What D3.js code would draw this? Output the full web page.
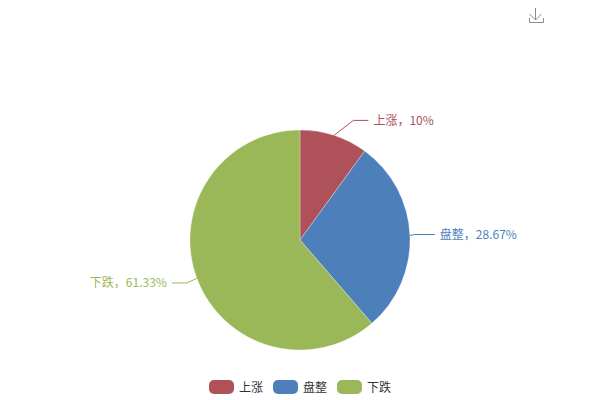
<!DOCTYPE html>
<html>
<head>
<meta charset="utf-8">
<style>
  html, body { margin: 0; padding: 0; background: #fff; }
  text { font-family: "Noto Sans CJK SC", sans-serif; font-size: 12px; }
</style>
<script src="https://cdn.jsdelivr.net/npm/d3@7"></script>
</head>
<body>
<script>
const categories = ['上涨', '盘整', '下跌'];
const values = [10, 28.67, 61.33];
const colors = ['#ae5158', '#4d7fbb', '#9ab858'];

const width = 600;
const height = 400;
const radius = 110;
const cx = 300;
const cy = 240;

// how far each label elbow sits from the slice edge, and the flat part after it
const elbowRadius = [131, 115, 121];
const elbowAngleShift = [0.106, -0.006, -0.007];
const flatLen = [15, 20, 15];

const svg = d3.select(document.body).append('svg')
  .attr('width', width)
  .attr('height', height)
  .style('display', 'block');

const color = d3.scaleOrdinal().domain(categories).range(colors);

const pie = d3.pie().sort(null).value(d => d.value);
const arc = d3.arc().innerRadius(0).outerRadius(radius);

const data = categories.map((name, i) => ({ name, value: values[i] }));
const slices = pie(data);

const g = svg.append('g')
  .attr('class', 'pie')
  .attr('transform', `translate(${cx}, ${cy})`);

g.selectAll('path.slice')
  .data(slices)
  .enter().append('path')
  .attr('class', 'slice')
  .attr('d', arc)
  .attr('fill', d => color(d.data.name))
  .attr('stroke', '#fff')
  .attr('stroke-width', 0.3);

const midAngle = d => (d.startAngle + d.endAngle) / 2;
const polar = (r, a) => [r * Math.sin(a), -r * Math.cos(a)];

const linePoints = (d, i) => {
  const a = midAngle(d);
  const start = polar(radius, a);
  const elbow = polar(elbowRadius[i], a + elbowAngleShift[i]);
  const dir = a < Math.PI ? 1 : -1;
  return [start, elbow, [elbow[0] + dir * flatLen[i], elbow[1]]];
};

g.selectAll('polyline.label-line')
  .data(slices)
  .enter().append('polyline')
  .attr('class', 'label-line')
  .attr('points', (d, i) => linePoints(d, i).join(' '))
  .attr('fill', 'none')
  .attr('stroke', d => color(d.data.name))
  .attr('stroke-width', 1);

g.selectAll('text.label')
  .data(slices)
  .enter().append('text')
  .attr('class', 'label')
  .attr('x', (d, i) => {
    const end = linePoints(d, i)[2];
    return end[0] + (midAngle(d) < Math.PI ? 5 : -5);
  })
  .attr('y', (d, i) => linePoints(d, i)[2][1])
  .attr('dy', '0.35em')
  .attr('text-anchor', d => midAngle(d) < Math.PI ? 'start' : 'end')
  .attr('fill', d => color(d.data.name))
  .text(d => `${d.data.name}，${d.data.value}%`);

// legend
const legendX = d3.scaleBand()
  .domain(categories)
  .range([209, 401])
  .paddingInner(0);

const legend = svg.append('g')
  .attr('class', 'legend')
  .attr('transform', 'translate(0, 380)');

const item = legend.selectAll('g')
  .data(categories)
  .enter().append('g')
  .attr('transform', d => `translate(${legendX(d)}, 0)`);

item.append('rect')
  .attr('width', 25)
  .attr('height', 14)
  .attr('rx', 5)
  .attr('fill', d => color(d));

item.append('text')
  .attr('x', 30)
  .attr('y', 8)
  .attr('dy', '0.35em')
  .attr('fill', '#333')
  .text(d => d);

// download icon
svg.append('path')
  .attr('d', 'M535.5 8V20M529.5 14L535.5 20L541.5 14M529.5 18V22.5H543.5V18')
  .attr('fill', 'none')
  .attr('stroke', '#8c8c8c')
  .attr('stroke-width', 1);
</script>
</body>
</html>
